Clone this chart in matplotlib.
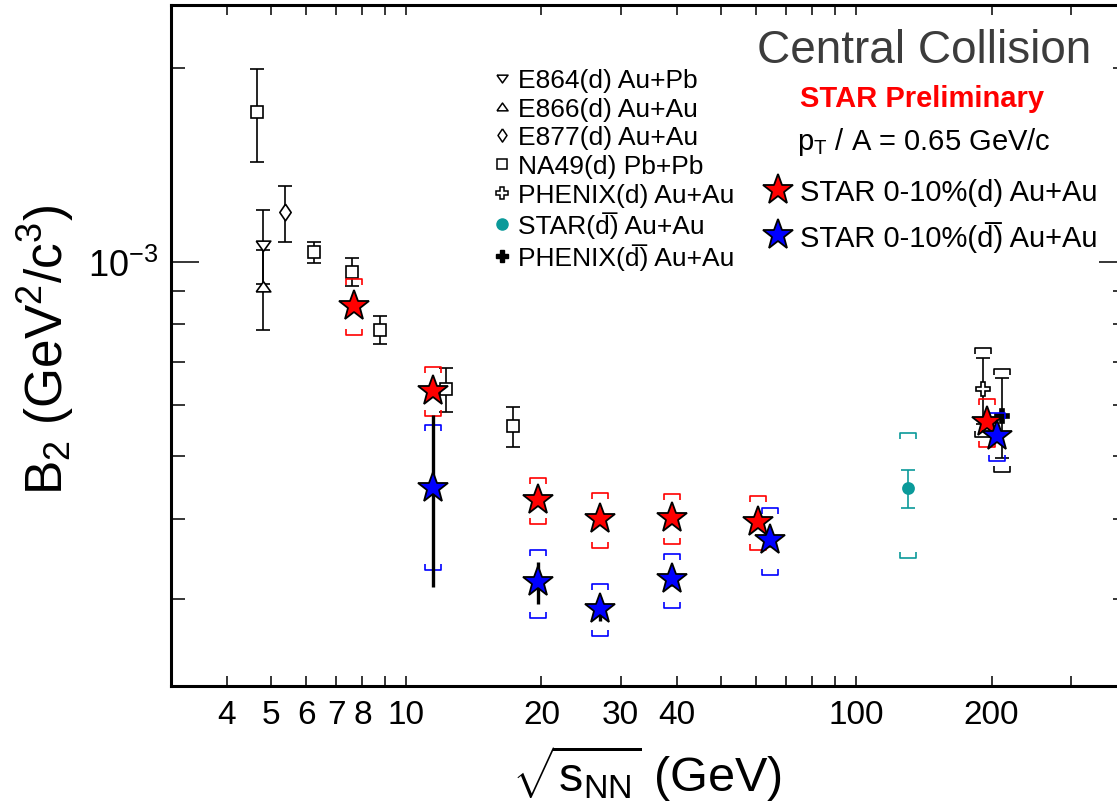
import numpy as np
import matplotlib
matplotlib.use("Agg")
import matplotlib.pyplot as plt
from matplotlib.lines import Line2D
from matplotlib.ticker import FixedLocator, FixedFormatter, NullFormatter

plt.rcParams['font.family'] = ['Liberation Sans', 'DejaVu Sans']
plt.rcParams['mathtext.fontset'] = 'custom'
plt.rcParams['mathtext.rm'] = 'Liberation Sans'
plt.rcParams['mathtext.it'] = 'Liberation Sans:italic'
plt.rcParams['mathtext.bf'] = 'Liberation Sans:bold'

# B2 in units of 1e-3 GeV^2/c^3
na49_x = [4.67, 6.25, 7.6, 8.75, 12.3, 17.3]
na49_b2 = [1.71, 1.035, 0.966, 0.785, 0.635, 0.556]
na49_err = [0.28, 0.04, 0.048, 0.04, 0.049, 0.039]

e864_x = [4.82]
e864_b2 = [1.063]
e864_err = [0.14]

e866_x = [4.82]
e866_b2 = [0.914]
e866_err = [0.13]

e877_x = [5.38]
e877_b2 = [1.194]
e877_err = [0.119]

star_d_x = [7.67, 11.46, 19.6, 27.0, 39.0, 60.5, 195]
star_d_b2 = [0.856, 0.632, 0.427, 0.399, 0.401, 0.395, 0.565]
star_d_stat = [0.01, 0.01, 0.006, 0.005, 0.005, 0.006, 0.01]
star_d_sys = [0.085, 0.056, 0.035, 0.039, 0.035, 0.038, 0.049]

star_dbar_x = [11.46, 19.6, 27.0, 39.0, 64.4, 206]
star_dbar_b2 = [0.446, 0.319, 0.290, 0.322, 0.371, 0.537]
star_dbar_stat = [0.133, 0.024, 0.012, 0.008, 0.01, 0.012]
star_dbar_sys = [0.113, 0.038, 0.027, 0.031, 0.044, 0.046]

star130_x = [130.3]
star130_b2 = [0.446]
star130_stat = [0.030]
star130_sys = [0.098]

phenix_d_x = [191]
phenix_d_b2 = [0.635]
phenix_d_stat = [0.075]
phenix_d_sys = [0.10]

phenix_dbar_x = [211]
phenix_dbar_b2 = [0.578]
phenix_dbar_stat = [0.082]
phenix_dbar_sys = [0.105]

xtick_vals = [4, 5, 6, 7, 8, 10, 20, 30, 40, 100, 200]
xtick_labels = ['4', '5', '6', '7', '8', '10', '20', '30', '40', '100', '200']
xminor_vals = [9, 50, 60, 70, 80, 90, 300]
ytick_vals = [1e-3]
ytick_labels = [r'$10^{-3}$']

SCALE = 1e-3
teal = '#0a9a9a'
DBAR = 'd\u0305'  # d with combining overline

# ROOT-like markers
tri_down = [(-1, 0.6), (1, 0.6), (0, -0.8), (-1, 0.6)]
tri_up = [(-1, -0.6), (1, -0.6), (0, 0.8), (-1, -0.6)]
diamond = [(0, 1), (0.68, 0), (0, -1), (-0.68, 0), (0, 1)]
top_br = [(-1, -0.8), (-1, 0), (1, 0), (1, -0.8)]
bot_br = [(-1, 0.8), (-1, 0), (1, 0), (1, 0.8)]

fig = plt.figure(figsize=(11.17, 8.04), dpi=100)
ax = fig.add_axes([170.7 / 1117, 1 - 687.1 / 804, (1127 - 170.7) / 1117, (687.1 - 6.3) / 804])
ax.set_xscale('log')
ax.set_yscale('log')
ax.set_xlim(3, 400)
ax.set_ylim(2.2e-4, 2.5e-3)


def sys_brackets(x, y, sys, color):
    y = np.array(y) * SCALE
    s = np.array(sys) * SCALE
    ax.plot(x, y + s, ls='none', marker=top_br, ms=11, mfc='none', mec=color, mew=1.2, zorder=3)
    ax.plot(x, y - s, ls='none', marker=bot_br, ms=11, mfc='none', mec=color, mew=1.2, zorder=3)


def old_points(x, y, err, marker, ms, color='k', mfc='white'):
    y = np.array(y) * SCALE
    e = np.array(err) * SCALE
    ax.errorbar(x, y, yerr=e, fmt='none', ecolor=color, elinewidth=1.2, capsize=5, capthick=1.2, zorder=2)
    ax.plot(x, y, ls='none', marker=marker, ms=ms, mfc=mfc, mec=color, mew=1.2, zorder=3)


old_points(na49_x, na49_b2, na49_err, 's', 8)
old_points(e864_x, e864_b2, e864_err, tri_down, 10.5)
old_points(e866_x, e866_b2, e866_err, tri_up, 10.5)
old_points(e877_x, e877_b2, e877_err, diamond, 12)

sys_brackets(star130_x, star130_b2, star130_sys, teal)
old_points(star130_x, star130_b2, star130_stat, 'o', 8, color=teal, mfc=teal)

sys_brackets(phenix_d_x, phenix_d_b2, phenix_d_sys, 'k')
sys_brackets(phenix_dbar_x, phenix_dbar_b2, phenix_dbar_sys, 'k')
old_points(phenix_d_x, phenix_d_b2, phenix_d_stat, 'P', 10)
old_points(phenix_dbar_x, phenix_dbar_b2, phenix_dbar_stat, 'P', 9.5, mfc='k')

sys_brackets(star_d_x, star_d_b2, star_d_sys, 'red')
sys_brackets(star_dbar_x, star_dbar_b2, star_dbar_sys, 'blue')
ax.errorbar(star_d_x, np.array(star_d_b2) * SCALE, yerr=np.array(star_d_stat) * SCALE,
            fmt='none', ecolor='k', elinewidth=2.4, zorder=4)
ax.errorbar(star_dbar_x, np.array(star_dbar_b2) * SCALE, yerr=np.array(star_dbar_stat) * SCALE,
            fmt='none', ecolor='k', elinewidth=2.4, zorder=4)
red_star, = ax.plot(star_d_x, np.array(star_d_b2) * SCALE, ls='none', marker='*', ms=23,
                    mfc='red', mec='k', mew=1.3, zorder=5, label='STAR 0-10%(d) Au+Au')
blue_star, = ax.plot(star_dbar_x, np.array(star_dbar_b2) * SCALE, ls='none', marker='*', ms=23,
                     mfc='blue', mec='k', mew=1.3, zorder=6,
                     label='STAR 0-10%(' + DBAR + ') Au+Au')

# axes styling
for sp in ax.spines.values():
    sp.set_linewidth(2.2)
ax.xaxis.set_major_locator(FixedLocator(xtick_vals))
ax.xaxis.set_major_formatter(FixedFormatter(xtick_labels))
ax.xaxis.set_minor_locator(FixedLocator(xminor_vals))
ax.xaxis.set_minor_formatter(NullFormatter())
ax.yaxis.set_major_locator(FixedLocator(ytick_vals))
ax.yaxis.set_major_formatter(FixedFormatter(ytick_labels))
ax.yaxis.set_minor_locator(FixedLocator([2e-3, 3e-4, 4e-4, 5e-4, 6e-4, 7e-4, 8e-4, 9e-4]))
ax.yaxis.set_minor_formatter(NullFormatter())
ax.tick_params(which='both', direction='in', top=True, right=True, width=1.1)
ax.tick_params(axis='x', which='both', length=7.2, labelsize=24, pad=9)
ax.tick_params(axis='y', which='major', length=20, labelsize=26, pad=9)
ax.tick_params(axis='y', which='minor', length=10)
for t in ax.xaxis.get_major_ticks():
    if t.get_loc() in (10, 100):
        t.tick1line.set_markersize(14.4)
        t.tick2line.set_markersize(14.4)

fig.text(46 / 1117, 1 - 350 / 804, r'B$_2$ (GeV$^2$/c$^3$)', rotation=90,
         ha='center', va='center', fontsize=37)
fig.text(647 / 1117, 1 - 774 / 804, r'$\sqrt{\mathrm{s}_{\mathrm{NN}}}$ (GeV)',
         ha='center', va='center', fontsize=35)

fig.text(757 / 1117, 1 - 63 / 804, 'Central Collision', ha='left', va='baseline',
         fontsize=33, color='#3c3c3c')
fig.text(800 / 1117, 1 - 106.7 / 804, 'STAR Preliminary', ha='left', va='baseline',
         fontsize=21, color='red', fontweight='bold')
fig.text(797 / 1117, 1 - 150 / 804, r'p$_{\mathrm{T}}$ / A = 0.65 GeV/c', ha='left',
         va='baseline', fontsize=21)

# legends
h_left = [
    Line2D([], [], ls='none', marker=tri_down, ms=8, mfc='white', mec='k', mew=1.1),
    Line2D([], [], ls='none', marker=tri_up, ms=8, mfc='white', mec='k', mew=1.1),
    Line2D([], [], ls='none', marker=diamond, ms=9.5, mfc='white', mec='k', mew=1.1),
    Line2D([], [], ls='none', marker='s', ms=6.5, mfc='white', mec='k', mew=1.1),
    Line2D([], [], ls='none', marker='P', ms=8, mfc='white', mec='k', mew=1.1),
    Line2D([], [], ls='none', marker='o', ms=8, mfc=teal, mec=teal),
    Line2D([], [], ls='none', marker='P', ms=8, mfc='k', mec='k'),
]
labels_left = ['E864(d) Au+Pb', 'E866(d) Au+Au', 'E877(d) Au+Au', 'NA49(d) Pb+Pb',
               'PHENIX(d) Au+Au', 'STAR(' + DBAR + ') Au+Au',
               'PHENIX(' + DBAR + ') Au+Au']
leg1 = ax.legend(h_left, labels_left, loc='upper left',
                 bbox_to_anchor=(491.5 / 1117, 1 - 69 / 804), bbox_transform=fig.transFigure,
                 frameon=False, fontsize=19, handlelength=0.8, handletextpad=0.21,
                 labelspacing=0.18, borderpad=0, borderaxespad=0)
ax.add_artist(leg1)
leg2 = ax.legend([red_star, blue_star], [red_star.get_label(), blue_star.get_label()],
                 loc='upper left', bbox_to_anchor=(763.4 / 1117, 1 - 179 / 804),
                 bbox_transform=fig.transFigure, frameon=False, fontsize=21,
                 handlelength=1.0, handletextpad=0.26, labelspacing=0.5,
                 borderpad=0, borderaxespad=0)

fig.savefig('out.png', dpi=100)
